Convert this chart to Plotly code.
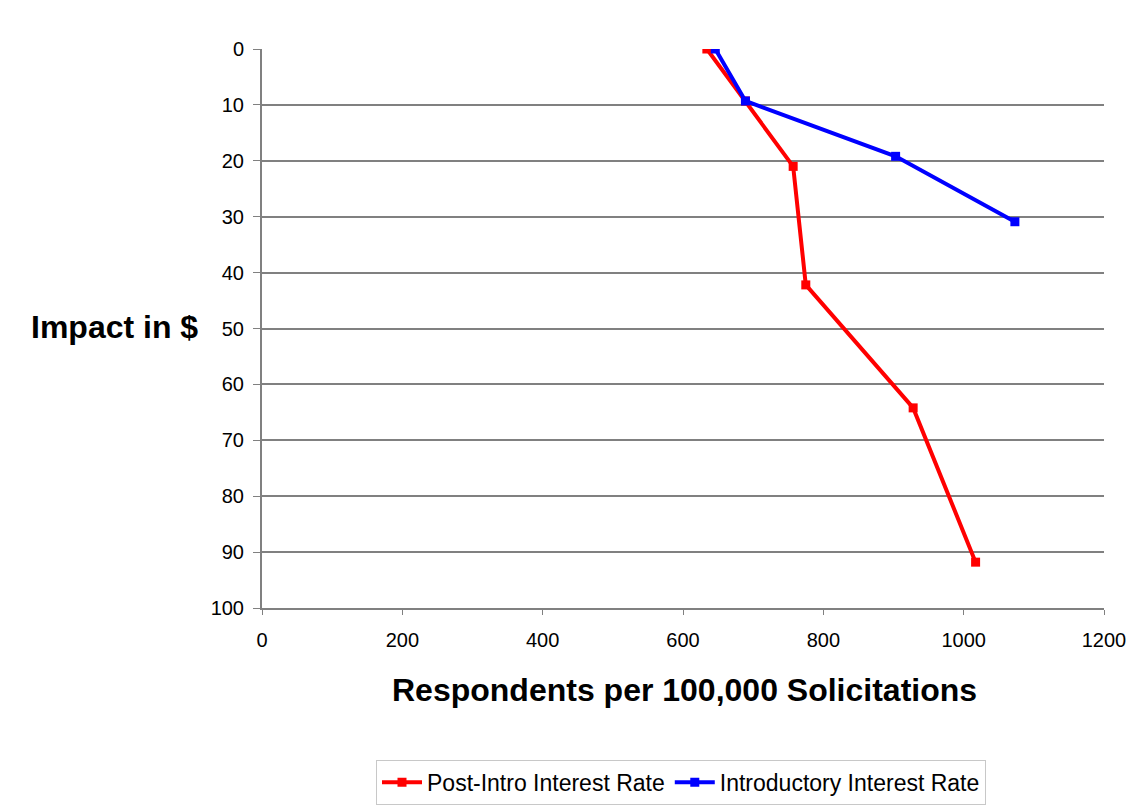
import plotly.graph_objects as go

# Data
post_x = [634, 689, 757, 775, 928, 1017]
post_y = [0, 9.3, 21.0, 42.2, 64.2, 91.8]
intro_x = [646, 689, 903, 1073]
intro_y = [0, 9.3, 19.2, 30.9]

x_ticks = [0, 200, 400, 600, 800, 1000, 1200]
y_ticks = [0, 10, 20, 30, 40, 50, 60, 70, 80, 90, 100]

FONT = "Liberation Sans, Arial, sans-serif"

W, H = 1134, 809
OFF = 8  # page body margin
L, R, T, B = 262 - OFF, 1104 - OFF, 49 - OFF, 608.5 - OFF
PW, PH = R - L, B - T


def px2paper(px, py):
    fx, fy = px - OFF, py - OFF
    return (fx - L) / PW, (B - fy) / PH


fig = go.Figure()
fig.add_trace(go.Scatter(x=post_x, y=post_y, mode="lines+markers",
                         name="Post-Intro Interest Rate",
                         line=dict(color="#ff0000", width=4),
                         marker=dict(symbol="square", size=9, color="#ff0000")))
fig.add_trace(go.Scatter(x=intro_x, y=intro_y, mode="lines+markers",
                         name="Introductory Interest Rate",
                         line=dict(color="#0000ff", width=4),
                         marker=dict(symbol="square", size=9, color="#0000ff")))

lx, ly = px2paper(681, 783)
fig.update_layout(
    width=W, height=H,
    paper_bgcolor="white", plot_bgcolor="white",
    margin=dict(l=L, r=W - R, t=T, b=H - B, autoexpand=False),
    font=dict(family=FONT, size=20, color="#000000"),
    showlegend=True,
    legend=dict(orientation="h", x=lx, xanchor="center", y=ly, yanchor="middle",
                bordercolor="#c8c8c8", borderwidth=1, font=dict(size=23),
                itemwidth=40, tracegroupgap=0),
    xaxis=dict(range=[0, 1200], tickvals=x_ticks, showgrid=False, zeroline=False,
               showline=True, linecolor="#808080", linewidth=2,
               ticks="outside", ticklen=5, tickcolor="#808080",
               ticklabelstandoff=8,
               tickfont=dict(size=20), title=None),
    yaxis=dict(range=[100, 0], tickvals=y_ticks, showgrid=True, gridcolor="#808080",
               gridwidth=1.5, zeroline=False, showline=True, linecolor="#808080",
               linewidth=2, ticks="outside", ticklen=7, tickcolor="#808080",
               ticklabelstandoff=5,
               tickfont=dict(size=20), title=None),
)

ax, ay = px2paper(114.7, 327)
fig.add_annotation(text="<b>Impact in $</b>", x=ax, y=ay, xref="paper", yref="paper",
                   showarrow=False, xanchor="center", yanchor="middle",
                   font=dict(size=32, family=FONT))
bx, by = px2paper(684.5, 691)
fig.add_annotation(text="<b>Respondents per 100,000 Solicitations</b>", x=bx, y=by,
                   xref="paper", yref="paper", showarrow=False,
                   xanchor="center", yanchor="middle",
                   font=dict(size=32, family=FONT))

fig.write_html("out.html")
